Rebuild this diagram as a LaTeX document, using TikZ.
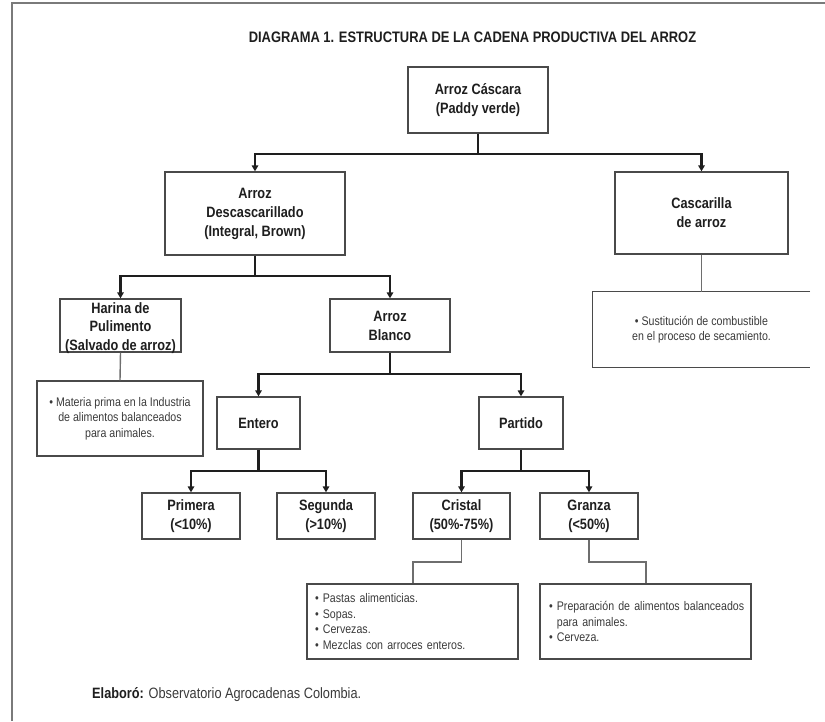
\documentclass[tikz,border=0pt]{standalone}
\usepackage{fontspec}
\setmainfont{Liberation Sans}[FakeStretch=0.85]
\usetikzlibrary{arrows.meta}

\definecolor{framegray}{HTML}{7A7A7A}
\definecolor{boxgray}{HTML}{4A4A4A}
\definecolor{linkgray}{HTML}{6E6E6E}
\definecolor{inkdark}{HTML}{1E1E1E}
\definecolor{notetext}{HTML}{3A3A3A}

\tikzset{
  stagebox/.style={draw=boxgray, line width=1.3pt, inner sep=0pt, align=center,
    text=inkdark, font=\fontsize{15}{19}\selectfont\bfseries},
  stagetext/.style={inner sep=0pt, align=center,
    text=inkdark, font=\fontsize{15}{18.5}\selectfont\bfseries},
  notebox/.style={draw=boxgray, line width=1.3pt, inner sep=0pt,
    text=notetext, font=\fontsize{12.5}{15.5}\selectfont},
  noteopen/.style={inner sep=0pt, text=notetext, font=\fontsize{12.5}{15.5}\selectfont},
  flowline/.style={draw=inkdark, line width=2.4pt, line join=miter,
    -{Triangle[length=6pt,width=6.5pt]}},
  trunk/.style={draw=inkdark, line width=2.4pt},
  linkline/.style={draw=linkgray, line width=1.4pt},
}

\begin{document}
\begin{tikzpicture}[x=1pt,y=-1pt]
\useasboundingbox (0,0) rectangle (825,721);

% page frame
\draw[framegray, line width=2pt] (12,721) -- (12,3) -- (825,3);

% title
\node[inner sep=0pt, text=inkdark, font=\fontsize{15.2}{18}\selectfont\bfseries]
  (title) at (472.5,37) {DIAGRAMA 1. ESTRUCTURA DE LA CADENA PRODUCTIVA DEL ARROZ};

% stages of the chain
\node[stagebox, minimum width=140pt, minimum height=66pt] (cascara) at (478,100)
  {Arroz Cáscara\\(Paddy verde)};
\node[stagebox, minimum width=180pt, minimum height=83pt] (desc) at (255,213.5)
  {Arroz\\Descascarillado\\(Integral, Brown)};
\node[stagebox, minimum width=173pt, minimum height=82pt] (casc) at (701.5,213)
  {Cascarilla\\de arroz};
\node[stagebox, minimum width=121pt, minimum height=53pt] (harina) at (120.5,325.5) {};
\node[stagetext] (harinatxt) at ([yshift=-2.5pt]harina.center)
  {Harina de\\Pulimento\\(Salvado de arroz)};
\node[stagebox, minimum width=120pt, minimum height=53pt] (blanco) at (390,325.5)
  {Arroz\\Blanco};
\node[stagebox, minimum width=83pt, minimum height=52pt] (entero) at (258.5,423)
  {Entero};
\node[stagebox, minimum width=84pt, minimum height=52pt] (partido) at (521,423)
  {Partido};
\node[stagebox, minimum width=98pt, minimum height=46pt] (primera) at (191,516)
  {Primera\\(<10\%)};
\node[stagebox, minimum width=98pt, minimum height=46pt] (segunda) at (326,516)
  {Segunda\\(>10\%)};
\node[stagebox, minimum width=97pt, minimum height=46pt] (cristal) at (461.5,516)
  {Cristal\\(50\%-75\%)};
\node[stagebox, minimum width=98pt, minimum height=46pt] (granza) at (589,516)
  {Granza\\(<50\%)};

% uses of the by-products
\node[noteopen, minimum width=217pt, minimum height=75pt, align=center] (nsust) at (701.5,329.5)
  {• Sustitución de combustible\\en el proceso de secamiento.};
\draw[boxgray, line width=1.3pt] (nsust.north east) -- (nsust.north west)
  -- (nsust.south west) -- (nsust.south east);
\node[notebox, minimum width=166pt, minimum height=75pt, align=center] (nharina) at (120,418.5)
  {• Materia prima en la Industria\\de alimentos balanceados\\para animales.};
\node[notebox, minimum width=211pt, minimum height=75pt, align=left,
  text width=195pt] (ncristal) at (412.5,621.5)
  {• Pastas alimenticias.\\• Sopas.\\• Cervezas.\\• Mezclas con arroces enteros.};
\node[notebox, minimum width=211pt, minimum height=75pt, align=left,
  text width=193pt] (ngranza) at (645.5,621.5)
  {\mbox{• Preparación de alimentos balanceados}\\\hphantom{• }para animales.\\• Cerveza.};

% branching connectors
\coordinate (j1) at (478,154);
\coordinate (j2) at (255,276);
\coordinate (j3) at (390,374);
\coordinate (j4) at (258.5,471);
\coordinate (j5) at (521,471);
\draw[trunk] (cascara.south) -- (j1);
\draw[flowline] (j1) -| (desc.north);
\draw[flowline] (j1) -| (casc.north);
\draw[trunk] (desc.south) -- (j2);
\draw[flowline] (j2) -| (harina.north);
\draw[flowline] (j2) -| (blanco.north);
\draw[trunk] (blanco.south) -- (j3);
\draw[flowline] (j3) -| (entero.north);
\draw[flowline] (j3) -| (partido.north);
\draw[trunk] (entero.south) -- (j4);
\draw[flowline] (j4) -| (primera.north);
\draw[flowline] (j4) -| (segunda.north);
\draw[trunk] (partido.south) -- (j5);
\draw[flowline] (j5) -| (cristal.north);
\draw[flowline] (j5) -| (granza.north);

% links to the uses
\coordinate (k1) at (413,562);
\coordinate (k2) at (646,562);
\draw[linkline] (casc.south) -- (nsust.north);
\draw[linkline] (harina.south) -- (nharina.north);
\draw[linkline] (cristal.south) |- (k1) -- (k1 |- ncristal.north);
\draw[linkline] (granza.south) |- (k2) -- (k2 |- ngranza.north);

% credit line
\node[anchor=west, inner sep=0pt, text=notetext, font=\fontsize{15}{18}\selectfont]
  (credit) at (92,695) {\textbf{\color{inkdark}Elaboró:} Observatorio Agrocadenas Colombia.};
\end{tikzpicture}
\end{document}
